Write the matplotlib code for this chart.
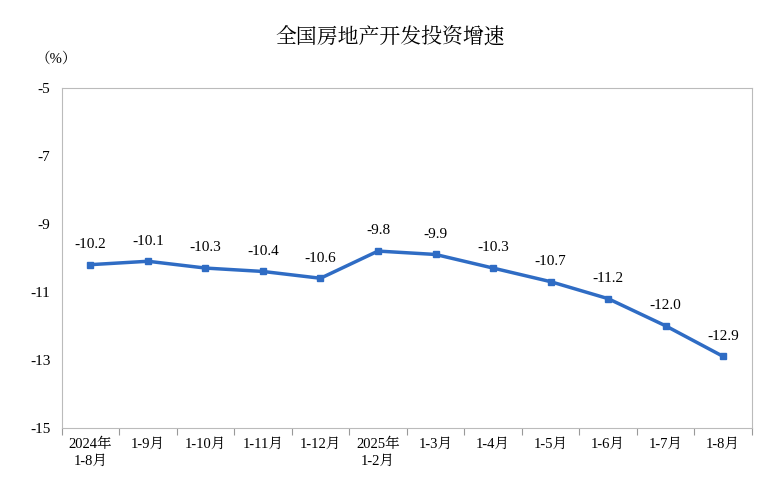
import matplotlib
matplotlib.use("Agg")
import matplotlib.pyplot as plt
from matplotlib import font_manager as fm
import numpy as np

categories = ["2024年\n1-8月", "1-9月", "1-10月", "1-11月", "1-12月", "2025年\n1-2月",
              "1-3月", "1-4月", "1-5月", "1-6月", "1-7月", "1-8月"]
values = [-10.2, -10.1, -10.3, -10.4, -10.6, -9.8, -9.9, -10.3, -10.7, -11.2, -12.0, -12.9]
yticks = [-5, -7, -9, -11, -13, -15]

cjk_names = [f.name for f in fm.fontManager.ttflist if "CJK" in f.name]
cjk = "Noto Sans CJK SC" if "Noto Sans CJK SC" in cjk_names else (cjk_names[0] if cjk_names else "DejaVu Sans")
plt.rcParams["font.family"] = ["Liberation Serif", cjk]
serif = ["Liberation Serif", cjk]

fig = plt.figure(figsize=(7.8, 4.94), dpi=100)
ax = fig.add_axes([0.079, 0.134, 0.885, 0.688])
x = np.arange(len(values))
ax.plot(x, values, color="#2f6cc4", lw=2.5, marker="s", ms=5, zorder=3)
for xi, v in zip(x, values):
    ax.text(xi, v + 0.4, f"{v:.1f}", ha="center", va="bottom", fontsize=11, family=serif)
ax.set_xlim(-0.5, len(values) - 0.5)
ax.set_ylim(-15, -5)
ax.set_yticks(yticks)
ax.set_yticklabels([str(t) for t in yticks], family=serif, fontsize=11)
ax.tick_params(axis="y", length=0, pad=8)
ax.set_xticks(np.arange(len(values) + 1) - 0.5)
ax.set_xticklabels([])
ax.tick_params(axis="x", length=5, direction="out", color="#999999")
for xi, c in zip(x, categories):
    ax.text(xi, -15.3, c, ha="center", va="top", fontsize=10.5, family=serif,
            linespacing=1.3, clip_on=False)
for s in ax.spines.values():
    s.set_color("#bbbbbb")
fig.text(0.5, 0.925, "全国房地产开发投资增速", ha="center", va="center", fontsize=15,
         family=cjk)
fig.text(0.045, 0.88, "（%）", ha="left", va="center", fontsize=10.5, family=serif)
fig.savefig("out.png", dpi=100)
